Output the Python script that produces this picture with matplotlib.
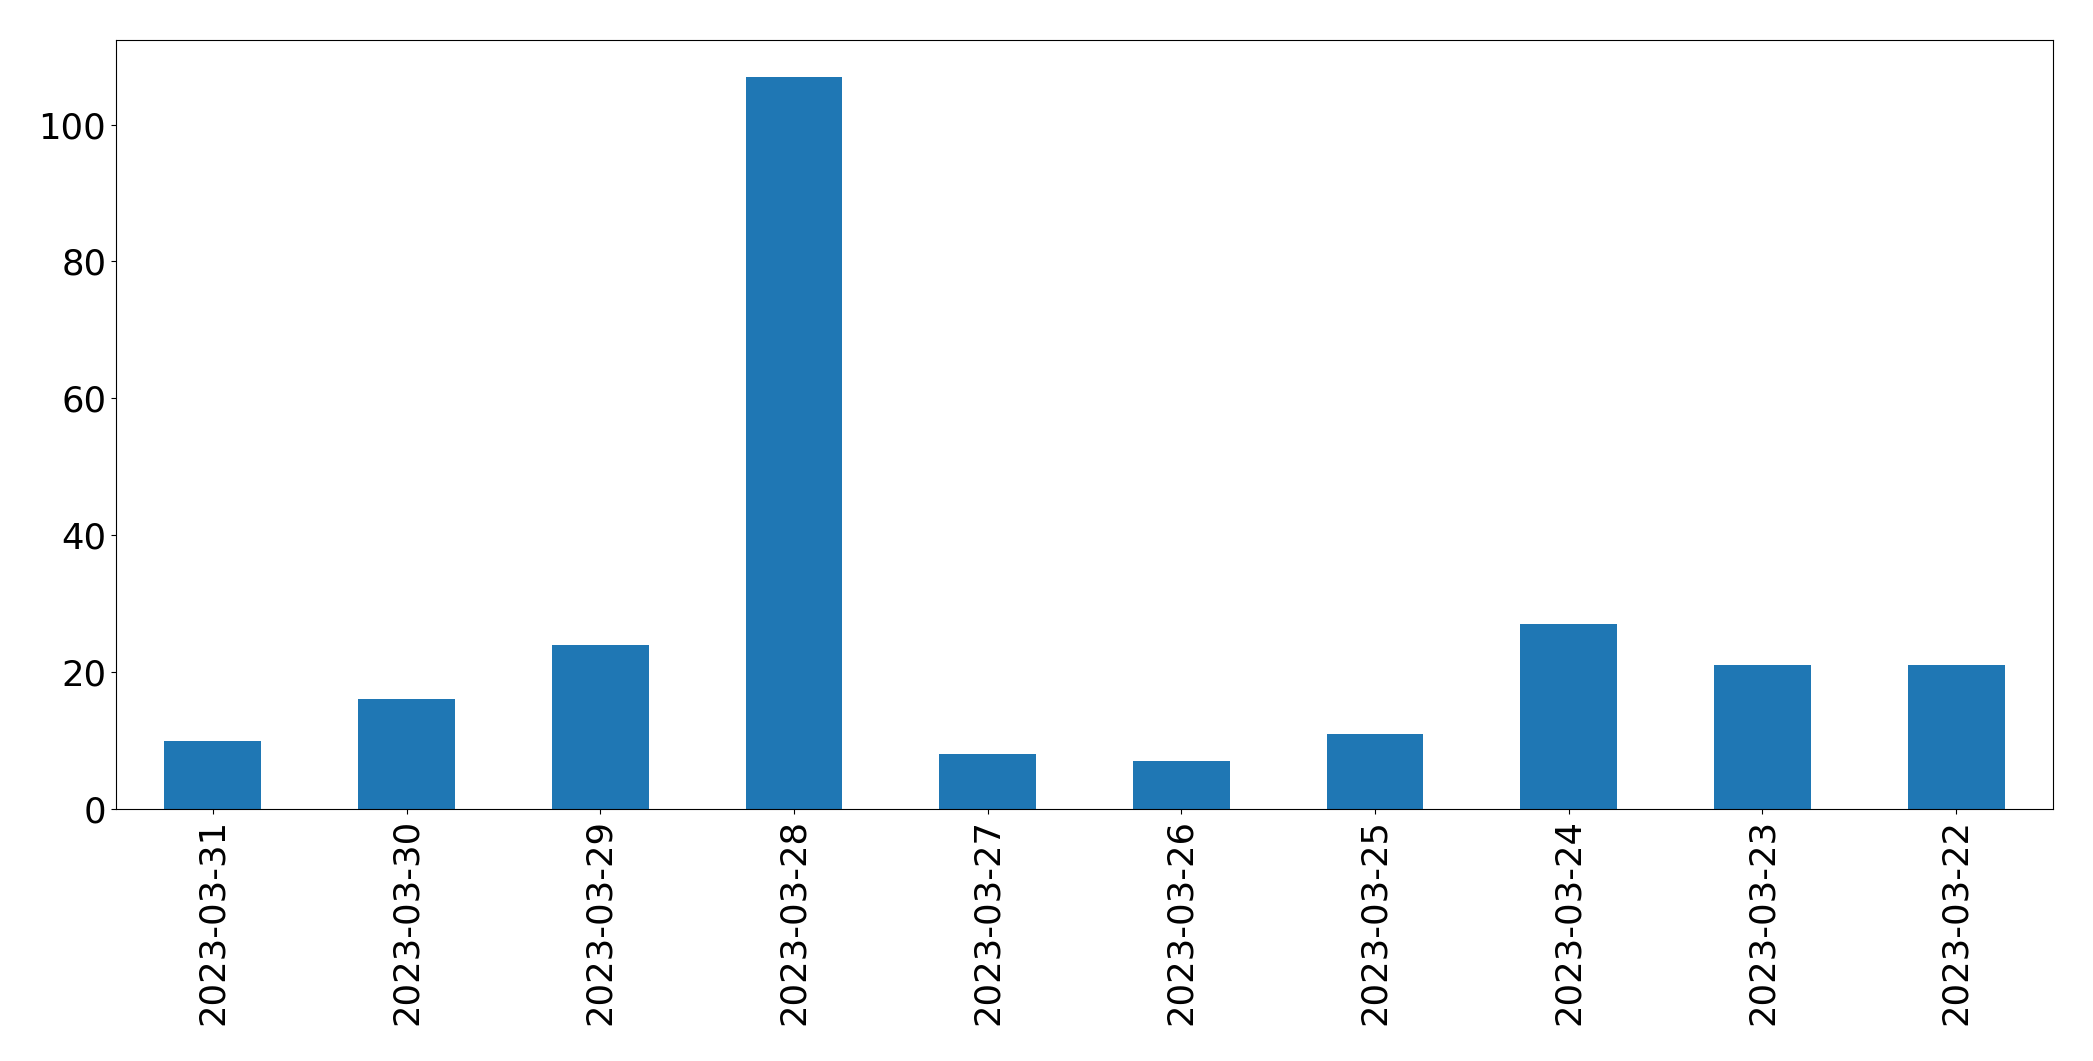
import matplotlib
matplotlib.use("Agg")
import matplotlib.pyplot as plt
import numpy as np

dates = ["2023-03-31", "2023-03-30", "2023-03-29", "2023-03-28", "2023-03-27",
         "2023-03-26", "2023-03-25", "2023-03-24", "2023-03-23", "2023-03-22"]
counts = [10, 16, 24, 107, 8, 7, 11, 27, 21, 21]

fig = plt.figure(figsize=(20.93, 10.61), dpi=100)
ax = fig.add_axes([116 / 2093, 1 - 809 / 1061, (2053 - 116) / 2093, (809 - 40) / 1061])

x = np.arange(len(dates))
ax.bar(x, counts, width=0.5, color="#1f77b4")
ax.set_xlim(-0.5, len(dates) - 0.5)
ax.set_ylim(0, 112.35)
ax.set_xticks(x)
ax.set_xticklabels(dates, rotation=90)
ax.tick_params(axis="both", labelsize=25.5)

fig.savefig("out.png")
